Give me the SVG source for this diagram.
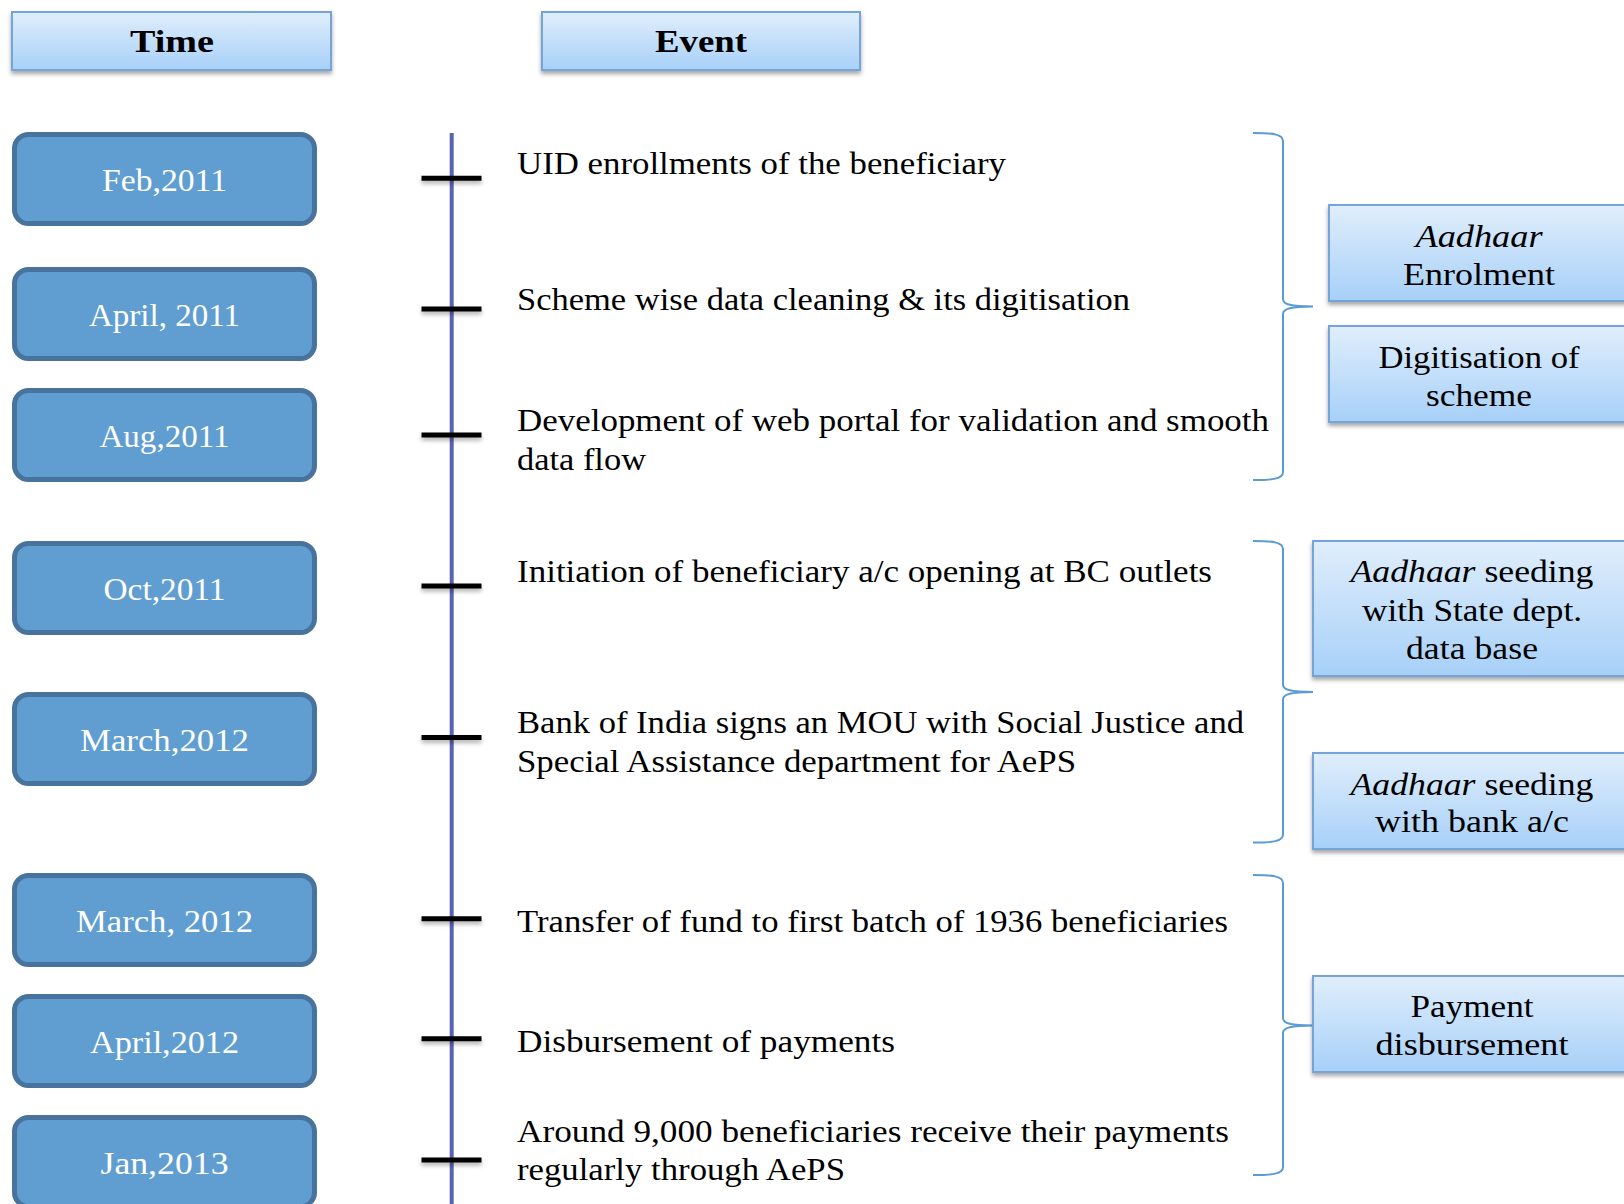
<svg xmlns="http://www.w3.org/2000/svg" width="1624" height="1204" viewBox="0 0 1624 1204">
<defs>
<linearGradient id="lg" x1="0" y1="0" x2="0" y2="1">
<stop offset="0" stop-color="#e0eefc"/>
<stop offset="1" stop-color="#a7d0f8"/>
</linearGradient>
<filter id="sh" x="-10%" y="-20%" width="120%" height="150%">
<feDropShadow dx="0" dy="3" stdDeviation="2" flood-color="#000" flood-opacity="0.35"/>
</filter>
<filter id="tsh" x="-10%" y="-100%" width="120%" height="400%">
<feDropShadow dx="0" dy="3" stdDeviation="2" flood-color="#000" flood-opacity="0.3"/>
</filter>
</defs>
<style>
.hdr{fill:url(#lg);stroke:#74a5d8;stroke-width:2}
.date{fill:#609ed2;stroke:#47739c;stroke-width:5}
.dt{font-family:"Liberation Serif",serif;font-size:31px;fill:#ffffff;text-anchor:middle}
.ht{font-family:"Liberation Serif",serif;font-size:32px;font-weight:bold;fill:#000;text-anchor:middle}
.ev{font-family:"Liberation Serif",serif;font-size:31px;fill:#000}
.bt{font-family:"Liberation Serif",serif;font-size:31px;fill:#000;text-anchor:middle}
.it{font-style:italic}
.tick{stroke:#000;stroke-width:5}
.brace{fill:none;stroke:#5b9bd5;stroke-width:2}
</style>
<rect width="1624" height="1204" fill="#ffffff"/>

<g id="hdr-time"><rect class="hdr" x="12" y="12" width="319" height="58" filter="url(#sh)"/><text class="ht" x="172" y="52" textLength="84" lengthAdjust="spacingAndGlyphs">Time</text></g>
<g id="hdr-event"><rect class="hdr" x="542" y="12" width="318" height="58" filter="url(#sh)"/><text class="ht" x="701" y="52" textLength="92" lengthAdjust="spacingAndGlyphs">Event</text></g>

<g id="d1"><rect class="date" x="14.5" y="134.5" width="300" height="89" rx="14"/><text class="dt" x="164.5" y="191" textLength="125" lengthAdjust="spacingAndGlyphs">Feb,2011</text></g>
<g id="d2"><rect class="date" x="14.5" y="269.5" width="300" height="89" rx="14"/><text class="dt" x="164.5" y="326" textLength="151" lengthAdjust="spacingAndGlyphs">April, 2011</text></g>
<g id="d3"><rect class="date" x="14.5" y="390.5" width="300" height="89" rx="14"/><text class="dt" x="164.5" y="447" textLength="130" lengthAdjust="spacingAndGlyphs">Aug,2011</text></g>
<g id="d4"><rect class="date" x="14.5" y="543.5" width="300" height="89" rx="14"/><text class="dt" x="164.5" y="600" textLength="122" lengthAdjust="spacingAndGlyphs">Oct,2011</text></g>
<g id="d5"><rect class="date" x="14.5" y="694.5" width="300" height="89" rx="14"/><text class="dt" x="164.5" y="751" textLength="169" lengthAdjust="spacingAndGlyphs">March,2012</text></g>
<g id="d6"><rect class="date" x="14.5" y="875.5" width="300" height="89" rx="14"/><text class="dt" x="164.5" y="932" textLength="177" lengthAdjust="spacingAndGlyphs">March, 2012</text></g>
<g id="d7"><rect class="date" x="14.5" y="996.5" width="300" height="89" rx="14"/><text class="dt" x="164.5" y="1053" textLength="149" lengthAdjust="spacingAndGlyphs">April,2012</text></g>
<g id="d8"><rect class="date" x="14.5" y="1117.5" width="300" height="89" rx="14"/><text class="dt" x="164.5" y="1174" textLength="128" lengthAdjust="spacingAndGlyphs">Jan,2013</text></g>

<g id="connectors">
<line x1="451.7" y1="133" x2="451.7" y2="1204" stroke="#5a62b6" stroke-width="4"/>
<g filter="url(#tsh)">
<line class="tick" x1="421.5" y1="178.3" x2="481.5" y2="178.3"/>
<line class="tick" x1="421.5" y1="309" x2="481.5" y2="309"/>
<line class="tick" x1="421.5" y1="435" x2="481.5" y2="435"/>
<line class="tick" x1="421.5" y1="586" x2="481.5" y2="586"/>
<line class="tick" x1="421.5" y1="737.4" x2="481.5" y2="737.4"/>
<line class="tick" x1="421.5" y1="918.7" x2="481.5" y2="918.7"/>
<line class="tick" x1="421.5" y1="1038.8" x2="481.5" y2="1038.8"/>
<line class="tick" x1="421.5" y1="1160" x2="481.5" y2="1160"/>
</g>
<path class="brace" d="M1253,133 C1272,133 1283,134 1283,141 L1283,299 C1283,304.5 1291,306.5 1313,306.5 C1291,306.5 1283,308.5 1283,314 L1283,472 C1283,479 1272,480 1253,480"/>
<path class="brace" d="M1253,541 C1272,541 1283,542 1283,549 L1283,684.5 C1283,690 1291,692 1313,692 C1291,692 1283,694 1283,699.5 L1283,834.5 C1283,841.5 1272,842.5 1253,842.5"/>
<path class="brace" d="M1253,875 C1272,875 1283,876 1283,883 L1283,1018 C1283,1023.5 1291,1025.5 1313,1025.5 C1291,1025.5 1283,1027.5 1283,1033 L1283,1167 C1283,1174 1272,1175 1253,1175"/>
</g>

<g id="e1"><text class="ev" x="517" y="174" textLength="489" lengthAdjust="spacingAndGlyphs">UID enrollments of the beneficiary</text></g>
<g id="e2"><text class="ev" x="517" y="310" textLength="613" lengthAdjust="spacingAndGlyphs">Scheme wise data cleaning &amp; its digitisation</text></g>
<g id="e3"><text class="ev" x="517" y="431" textLength="752" lengthAdjust="spacingAndGlyphs">Development of web portal for validation and smooth</text><text class="ev" x="517" y="470" textLength="129" lengthAdjust="spacingAndGlyphs">data flow</text></g>
<g id="e4"><text class="ev" x="517" y="582" textLength="695" lengthAdjust="spacingAndGlyphs">Initiation of beneficiary a/c opening at BC outlets</text></g>
<g id="e5"><text class="ev" x="517" y="733" textLength="727" lengthAdjust="spacingAndGlyphs">Bank of India signs an MOU with Social Justice and</text><text class="ev" x="517" y="771.5" textLength="559" lengthAdjust="spacingAndGlyphs">Special Assistance department for AePS</text></g>
<g id="e6"><text class="ev" x="517" y="932" textLength="711" lengthAdjust="spacingAndGlyphs">Transfer of fund to first batch of 1936 beneficiaries</text></g>
<g id="e7"><text class="ev" x="517" y="1052" textLength="378" lengthAdjust="spacingAndGlyphs">Disbursement of payments</text></g>
<g id="e8"><text class="ev" x="517" y="1141.5" textLength="712" lengthAdjust="spacingAndGlyphs">Around 9,000 beneficiaries receive their payments</text><text class="ev" x="517" y="1179.5" textLength="328" lengthAdjust="spacingAndGlyphs">regularly through AePS</text></g>

<g id="r1"><rect class="hdr" x="1329" y="205" width="320" height="96" filter="url(#sh)"/><text class="bt it" x="1479" y="246.5" textLength="127" lengthAdjust="spacingAndGlyphs">Aadhaar</text><text class="bt" x="1479" y="284.5" textLength="152" lengthAdjust="spacingAndGlyphs">Enrolment</text></g>
<g id="r2"><rect class="hdr" x="1329" y="326" width="320" height="96" filter="url(#sh)"/><text class="bt" x="1479" y="367.5" textLength="201" lengthAdjust="spacingAndGlyphs">Digitisation of</text><text class="bt" x="1479" y="406" textLength="106" lengthAdjust="spacingAndGlyphs">scheme</text></g>
<g id="r3"><rect class="hdr" x="1313" y="541" width="336" height="135" filter="url(#sh)"/><text class="bt" x="1472" y="582" textLength="243" lengthAdjust="spacingAndGlyphs"><tspan class="it">Aadhaar</tspan> seeding</text><text class="bt" x="1472" y="620.5" textLength="220" lengthAdjust="spacingAndGlyphs">with State dept.</text><text class="bt" x="1472" y="658.5" textLength="132" lengthAdjust="spacingAndGlyphs">data base</text></g>
<g id="r4"><rect class="hdr" x="1313" y="753" width="336" height="96" filter="url(#sh)"/><text class="bt" x="1472" y="794.5" textLength="243" lengthAdjust="spacingAndGlyphs"><tspan class="it">Aadhaar</tspan> seeding</text><text class="bt" x="1472" y="831.5" textLength="194" lengthAdjust="spacingAndGlyphs">with bank a/c</text></g>
<g id="r5"><rect class="hdr" x="1313" y="976" width="336" height="96" filter="url(#sh)"/><text class="bt" x="1472" y="1017" textLength="123" lengthAdjust="spacingAndGlyphs">Payment</text><text class="bt" x="1472" y="1054.5" textLength="193" lengthAdjust="spacingAndGlyphs">disbursement</text></g>
</svg>
